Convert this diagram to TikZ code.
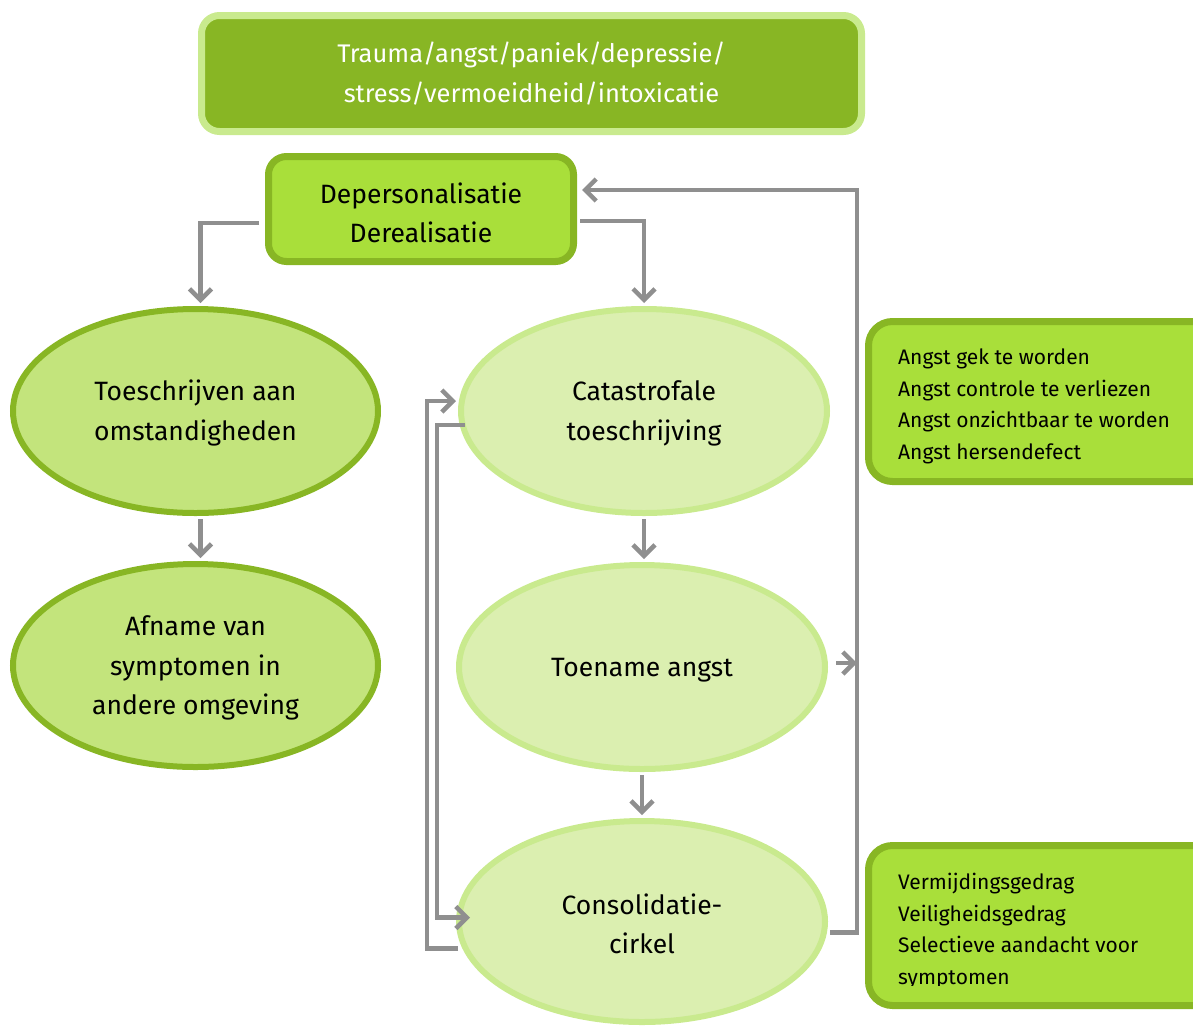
\documentclass[tikz,border=0pt]{standalone}
\usepackage{fontspec}
\setmainfont{Fira Sans}
\usetikzlibrary{arrows.meta,calc,shapes.geometric}
\definecolor{darkgreen}{HTML}{88B624}
\definecolor{paleborder}{HTML}{C9EA8E}
\definecolor{brightgreen}{HTML}{A9DF3A}
\definecolor{midgreen}{HTML}{C3E47C}
\definecolor{palegreen}{HTML}{DBEFB0}
\definecolor{arrowgray}{HTML}{8F8F8F}
\tikzset{
  topbox/.style={draw=paleborder, fill=darkgreen, line width=7pt, rounded corners=18pt,
    minimum width=660pt, minimum height=116pt, align=center, text=white,
    font=\fontsize{25.5}{40}\selectfont},
  depbox/.style={draw=darkgreen, fill=brightgreen, line width=7pt, rounded corners=18pt,
    minimum width=305pt, minimum height=105pt, align=center,
    font=\fontsize{26.5}{39}\selectfont},
  sidebox/.style={draw=darkgreen, fill=brightgreen, line width=7pt, rounded corners=24pt,
    minimum width=380pt, minimum height=160pt},
  sidetext/.style={anchor=north west, align=left, inner sep=0pt,
    font=\fontsize{21}{31.5}\selectfont},
  darkell/.style={ellipse, draw=darkgreen, fill=midgreen, line width=6pt,
    minimum width=365pt, minimum height=204pt, inner sep=0pt, align=center,
    font=\fontsize{26.5}{39.5}\selectfont},
  paleell/.style={ellipse, draw=paleborder, fill=palegreen, line width=6pt,
    minimum width=366pt, minimum height=204pt, inner sep=0pt, align=center,
    font=\fontsize{26.5}{39.5}\selectfont},
  arr/.style={draw=arrowgray, line width=4.5pt,
    -{Straight Barb[length=11pt,width=22pt,line width=4.5pt]}}
}
\begin{document}
\begin{tikzpicture}[x=1pt,y=-1pt]
\useasboundingbox (0,0) rectangle (1193,1029);
\clip (0,0) rectangle (1193,1029);

% top box
\node[topbox] (top) at (531.5,73.5) {Trauma/angst/paniek/depressie/\\stress/vermoeidheid/intoxicatie};

% depersonalisatie
\node[depbox] (dep) at (421,209) {\rule{0pt}{29pt}Depersonalisatie\\Derealisatie};

% left ellipses
\node[darkell] (toe) at (195.5,411) {\rule{0pt}{25pt}Toeschrijven aan\\omstandigheden};
\node[darkell, minimum height=203pt] (afn) at (195.5,665.5) {\rule{0pt}{25pt}Afname van\\symptomen in\\andere omgeving};

% middle ellipses
\node[paleell] (cat) at (644,411) {\rule{0pt}{25pt}Catastrofale\\toeschrijving};
\node[paleell] (toen) at (642,667) {\rule{0pt}{25pt}Toename angst};
\node[paleell, minimum height=201pt] (cons) at (642,921.5) {\rule{0pt}{25pt}Consolidatie-\\cirkel};

% side boxes
\node[sidebox] (sb1) at (1058.5,401.5) {};
\begin{scope}
  \clip (870,330) rectangle (1193,463);
  \node[sidetext] (sb1t) at (898,349) {Angst gek te worden\\Angst controle te verliezen\\Angst onzichtbaar te worden\\Angst hersendefect};
\end{scope}
\node[sidebox] (sb2) at (1058.5,925.5) {};
\begin{scope}
  \clip (870,855) rectangle (1193,985);
  \node[sidetext] (sb2t) at (898,873) {Vermijdingsgedrag\\Veiligheidsgedrag\\Selectieve aandacht voor\\symptomen};
\end{scope}

% connectors
\coordinate (rline) at (857,0);
\draw[arr] ([xshift=-6pt,yshift=-14pt]dep.west) -| ([xshift=5pt,yshift=3pt]toe.north);
\draw[arr] ([xshift=3pt,yshift=-12pt]dep.east) -| ([yshift=3pt]cat.north);
\draw[arr] ([xshift=5pt,yshift=-3pt]toe.south) -- ([xshift=5pt,yshift=3pt]afn.north);
\coordinate (cs) at ([yshift=-3pt]cat.south);
\draw[arr] (cs) -- ([yshift=3pt]cs |- toen.north);
\draw[arr] ([yshift=-3pt]toen.south) -- ([yshift=3pt]cons.north);

% left loops
\draw[arr] ($(cons.west)+(2,27)$) -- ++(-31,0) |- ([xshift=-2pt,yshift=10pt]cat.west);
\draw[arr] ($(cat.west)+(7,14)$) -- ++(-28,0) |- ([xshift=14pt,yshift=4pt]cons.west);

% right loop
\coordinate (ce) at ([xshift=2pt,yshift=-11pt]cons.east);
\draw[arr] (ce) -- (ce -| rline) |- ([xshift=5pt,yshift=19pt]dep.east);
\coordinate (te) at ([xshift=8pt,yshift=4pt]toen.east);
\draw[arr] (te) -- (te -| rline);
\end{tikzpicture}
\end{document}
